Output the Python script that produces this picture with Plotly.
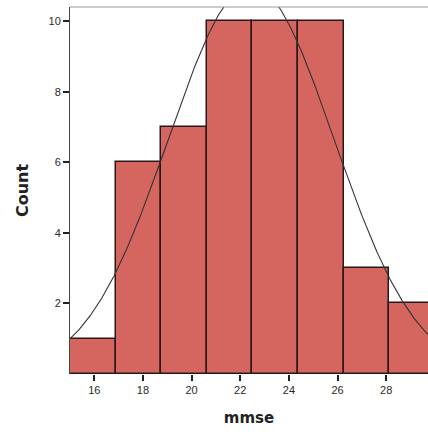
import numpy as np
import plotly.graph_objects as go

# Histogram bins (mmse)
bin_start = 15.0
bin_width = 1.875
counts = [1, 6, 7, 10, 10, 10, 3, 2]

# Fitted normal curve parameters
curve_mean = 22.45
curve_sd = 3.40
curve_n = 50

x_ticks = [16, 18, 20, 22, 24, 26, 28]
y_ticks = [2, 4, 6, 8, 10]

bin_centers = [bin_start + bin_width * (i + 0.5) for i in range(len(counts))]

xs = np.linspace(14.5, 30.5, 400)
ys = curve_n * bin_width / (curve_sd * np.sqrt(2 * np.pi)) * np.exp(-((xs - curve_mean) ** 2) / (2 * curve_sd ** 2))

fig = go.Figure()
fig.add_trace(go.Bar(
    x=bin_centers, y=counts, width=bin_width,
    marker=dict(color="#D4665F", line=dict(color="#2a1818", width=1.5)),
    hoverinfo="skip",
))
fig.add_trace(go.Scatter(
    x=xs, y=ys, mode="lines",
    line=dict(color="#333333", width=1.1),
    hoverinfo="skip",
))

fig.update_layout(
    width=428, height=436,
    margin=dict(l=70, r=0, t=7, b=62),
    paper_bgcolor="white", plot_bgcolor="white",
    showlegend=False, bargap=0,
    font=dict(family="Liberation Sans, Arial, sans-serif", size=11, color="#2a2a2a"),
    xaxis=dict(
        range=[15, 29.72], tickvals=x_ticks, ticktext=[str(t) for t in x_ticks],
        ticks="outside", ticklen=6, tickwidth=2, tickcolor="#222222",
        showgrid=False, zeroline=False, showline=False,
        tickfont=dict(size=11, color="#2a2a2a"),
        title=dict(text="<b>mmse</b>", standoff=17,
                   font=dict(family="DejaVu Sans, sans-serif", size=15, color="#222222")),
    ),
    yaxis=dict(
        range=[0, 10.40], tickvals=y_ticks, ticktext=[str(t) for t in y_ticks],
        ticks="outside", ticklen=6, tickwidth=2, tickcolor="#222222",
        showgrid=False, zeroline=False,
        showline=True, linecolor="#444444", linewidth=1,
        tickfont=dict(size=11, color="#2a2a2a"),
        title=dict(text="<b>Count</b>", standoff=15,
                   font=dict(family="DejaVu Sans, sans-serif", size=16, color="#222222")),
    ),
    shapes=[dict(type="line", xref="paper", yref="paper", x0=0, x1=1, y0=1, y1=1,
                 line=dict(color="#999999", width=1))],
)

fig.write_html("out.html")
